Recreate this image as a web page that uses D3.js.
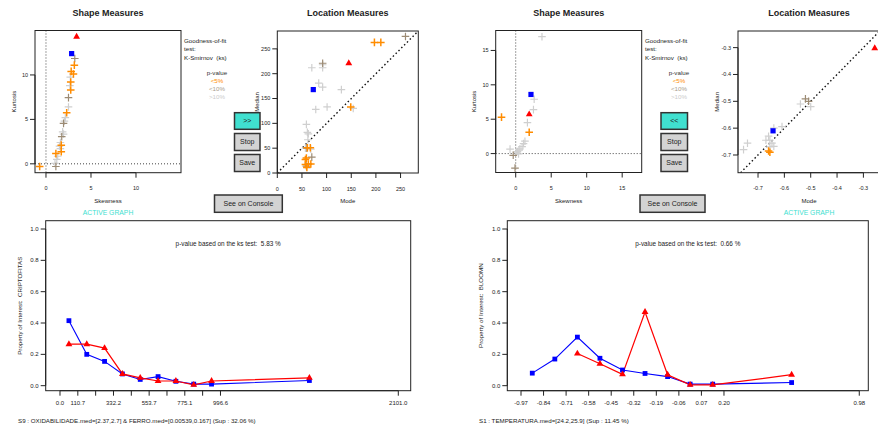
<!doctype html>
<html>
<head>
<script src="https://d3js.org/d3.v7.min.js"></script>
<style>
  body { margin: 0; background: #fff; }
  svg text { font-family: "Liberation Sans", Arial, sans-serif; fill: #222; }
</style>
</head>
<body>
<div id="graphic"></div>
<script>

// ---- data: top-left (S9) shape measures [skewness, kurtosis] ----
var s9ShapeSig5  = [[3.15,11.1],[2.8,10.4],[3.05,10.1],[2.75,9.2],[2.75,8.3],[2.3,5.75],[1.7,2.1],[1.7,1.35],[1.1,1.15],[-0.7,-0.3]];
var s9ShapeSig10 = [[3.2,11.85],[2.5,7.45],[1.95,4.55],[1.75,3.05],[1.1,-0.3]];
var s9ShapeRest  = [[2.7,9.75],[2.65,8.8],[2.5,6.4],[2.15,5.2],[2.05,4.8],[1.85,3.6],[1.95,3.35],[1.6,2.4],[1.5,2.0],[1.6,1.7],[1.3,0.85],[1.2,0.5],[1.0,0.05]];
var s9ShapeBlue  = [[2.85,12.4]];
var s9ShapeRed   = [[3.4,14.3]];

// ---- top-left location measures [mode, median] ----
var s9LocSig5  = [[197,263],[210,263],[149,133],[61,51],[67,51],[59,30],[57,27],[63,18],[57,17],[68,18],[60,11]];
var s9LocSig10 = [[260,275],[92,221],[60,50],[70,32],[59,14]];
var s9LocRest  = [[92,218],[70,212],[92,212],[84,181],[92,173],[130,168],[154,130],[101,133],[78,128],[59,98],[61,82],[63,79],[62,67],[57,50],[68,48]];
var s9LocBlue  = [[73,168]];
var s9LocRed   = [[145,221]];

// ---- top-right (S1) shape measures ----
var s1ShapeSig5  = [[-2.0,5.3],[1.9,3.1]];
var s1ShapeSig10 = [[-0.35,-0.25],[-0.1,-2.1]];
var s1ShapeRest  = [[3.7,17.0],[2.6,7.9],[2.5,6.4],[1.65,4.5],[1.3,1.8],[1.1,1.45],[0.9,1.0],[0.6,0.7],[0.45,0.5],[-0.8,0.65],[0.25,0.3],[0.4,-0.05],[0.1,0.2]];
var s1ShapeBlue  = [[2.15,8.6]];
var s1ShapeRed   = [[1.9,5.7]];

// ---- top-right location measures ----
var s1LocSig5  = [[-0.66,-0.685],[-0.655,-0.69]];
var s1LocSig10 = [[-0.52,-0.491],[-0.508,-0.5]];
var s1LocRest  = [[-0.539,-0.51],[-0.5,-0.52],[-0.609,-0.594],[-0.66,-0.63],[-0.67,-0.645],[-0.655,-0.645],[-0.647,-0.656],[-0.655,-0.67],[-0.64,-0.668],[-0.74,-0.656],[-0.755,-0.68],[-0.64,-0.6]];
var s1LocBlue  = [[-0.643,-0.61]];
var s1LocRed   = [[-0.257,-0.302]];

// ---- bottom-left: CRIPTOFITAS by interval ----
var s9Mid   = [55.4,166.1,276.8,387.6,498.3,609.0,719.8,830.5,941.2,1548.8];
var s9Blue  = [0.415,0.20,0.155,0.075,0.04,0.058,0.028,0.01,0.01,0.033];
var s9Red   = [0.265,0.265,0.24,0.075,0.05,0.03,0.03,0.005,0.03,0.05];
var s9Ticks = [0,110.7,221.4,332.2,442.9,553.7,664.4,775.1,885.8,996.6,2101.0];
var s9TickLabels = ["0.0","110.7","","332.2","","553.7","","775.1","","996.6","2101.0"];

// ---- bottom-right: BLOOMN by interval ----
var s1Mid   = [-0.905,-0.775,-0.645,-0.515,-0.385,-0.255,-0.125,0.005,0.135,0.59];
var s1Blue  = [0.08,0.17,0.31,0.175,0.10,0.078,0.058,0.01,0.01,0.02];
var s1Red   = [null,null,0.205,0.14,0.072,0.47,0.07,0.005,0.005,0.07];
var s1Ticks = [-0.97,-0.84,-0.71,-0.58,-0.45,-0.32,-0.19,-0.06,0.07,0.20,0.98];
var s1TickLabels = ["-0.97","-0.84","-0.71","-0.58","-0.45","-0.32","-0.19","-0.06","0.07","0.20","0.98"];

var propTicks = [0,0.2,0.4,0.6,0.8,1.0];

var ORANGE = "#FF8C00", TAN = "#9C8B74", LIGHT = "#CFCFCF", TURQ = "#40E0D0";

var svg = d3.select("#graphic").append("svg")
  .attr("width", 878).attr("height", 428);

var cross = "M-3.8,0H3.8M0,-3.8V3.8";

// R-like axis helpers
function xAxisR(g, scale, ticks, labels, y, fs, labY) {
  g.append("line").attr("x1", scale(ticks[0])).attr("x2", scale(ticks[ticks.length-1]))
    .attr("y1", y).attr("y2", y).attr("stroke", "#222");
  ticks.forEach(function(t, i) {
    g.append("line").attr("x1", scale(t)).attr("x2", scale(t)).attr("y1", y).attr("y2", y + 5)
      .attr("stroke", "#222");
    g.append("text").attr("x", scale(t)).attr("y", labY).attr("text-anchor", "middle")
      .style("font-size", fs + "px").text(labels[i]);
  });
}
function yAxisR(g, scale, ticks, labels, x, fs) {
  g.append("line").attr("y1", scale(ticks[0])).attr("y2", scale(ticks[ticks.length-1]))
    .attr("x1", x).attr("x2", x).attr("stroke", "#222");
  ticks.forEach(function(t, i) {
    g.append("line").attr("y1", scale(t)).attr("y2", scale(t)).attr("x1", x).attr("x2", x - 5)
      .attr("stroke", "#222");
    g.append("text").attr("x", x - 7).attr("y", scale(t)).attr("dy", "0.35em")
      .attr("text-anchor", "end").style("font-size", fs + "px").text(labels[i]);
  });
}

function scatterPanel(c) {
  var x = d3.scaleLinear().domain(c.xd).range([c.box[0], c.box[2]]);
  var y = d3.scaleLinear().domain(c.yd).range([c.box[3], c.box[1]]);
  var g = svg.append("g");
  var cid = "clip" + Math.round(c.box[0]);
  svg.append("clipPath").attr("id", cid).append("rect")
    .attr("x", c.box[0]).attr("y", c.box[1])
    .attr("width", c.box[2] - c.box[0]).attr("height", c.box[3] - c.box[1]);
  var inner = g.append("g").attr("clip-path", "url(#" + cid + ")");

  if (c.kind === "shape") {
    inner.append("line").attr("x1", x(0)).attr("x2", x(0)).attr("y1", c.box[1]).attr("y2", c.box[3])
      .attr("stroke", "#444").attr("stroke-dasharray", "1,2");
    inner.append("line").attr("y1", y(0)).attr("y2", y(0)).attr("x1", c.box[0]).attr("x2", c.box[2])
      .attr("stroke", "#444").attr("stroke-dasharray", "1,2");
  } else {
    var lo = Math.max(c.xd[0], c.yd[0]), hi = Math.min(c.xd[1], c.yd[1]);
    inner.append("line").attr("x1", x(lo)).attr("y1", y(lo)).attr("x2", x(hi)).attr("y2", y(hi))
      .attr("stroke", "#111").attr("stroke-width", 1.4).attr("stroke-dasharray", "1.5,2.5");
  }

  [[c.rest, LIGHT, 1.2], [c.sig10, TAN, 1.2], [c.sig5, ORANGE, 1.5]].forEach(function(s) {
    inner.selectAll(null).data(s[0]).enter().append("path")
      .attr("d", cross)
      .attr("transform", function(d) { return "translate(" + x(d[0]) + "," + y(d[1]) + ")"; })
      .attr("stroke", s[1]).attr("stroke-width", s[2]).attr("fill", "none");
  });
  inner.selectAll(null).data(c.blue).enter().append("rect")
    .attr("x", function(d) { return x(d[0]) - 2.6; }).attr("y", function(d) { return y(d[1]) - 2.6; })
    .attr("width", 5.2).attr("height", 5.2).attr("fill", "#0000FF");
  inner.selectAll(null).data(c.red).enter().append("path")
    .attr("d", d3.symbol(d3.symbolTriangle, 20))
    .attr("transform", function(d) { return "translate(" + x(d[0]) + "," + y(d[1]) + ")"; })
    .attr("fill", "#FF0000");

  g.append("rect").attr("x", c.box[0]).attr("y", c.box[1])
    .attr("width", c.box[2] - c.box[0]).attr("height", c.box[3] - c.box[1])
    .attr("fill", "none").attr("stroke", "#222").attr("stroke-width", 1);

  xAxisR(g, x, c.xt, c.xt.map(c.fmt), c.box[3], 5.5, c.box[3] + 17.5);
  yAxisR(g, y, c.yt, c.yt.map(c.fmt), c.box[0], 5.5);

  var cx = (c.box[0] + c.box[2]) / 2, cy = (c.box[1] + c.box[3]) / 2;
  g.append("text").attr("x", cx).attr("y", 15.5).attr("text-anchor", "middle")
    .style("font-size", "9px").style("font-weight", "bold").text(c.title);
  g.append("text").attr("x", cx).attr("y", 203).attr("text-anchor", "middle")
    .style("font-size", "6px").text(c.xLabel);
  g.append("text").attr("transform", "translate(" + c.yLabX + "," + cy + ")rotate(-90)")
    .attr("text-anchor", "middle").attr("dy", "0.35em").style("font-size", "6px").text(c.yLabel);
  if (c.active) {
    g.append("text").attr("x", cx).attr("y", 214.5).attr("text-anchor", "middle")
      .style("font-size", "6.8px").style("fill", TURQ).text("ACTIVE GRAPH");
  }
}

// plain ASCII hyphen for negatives, like the original
var fmtInt = function(d) { return String(d); };
var fmt1 = function(d) { return d.toFixed(1); };

scatterPanel({kind: "shape", box: [35, 30.5, 181, 172.7], xd: [-1.22, 15], yd: [-1.0, 15.0],
  xt: [0,5,10], yt: [0,5,10], fmt: fmtInt, title: "Shape Measures", xLabel: "Skewness",
  yLabel: "Kurtosis", yLabX: 14, active: true,
  sig5: s9ShapeSig5, sig10: s9ShapeSig10, rest: s9ShapeRest, blue: s9ShapeBlue, red: s9ShapeRed});

scatterPanel({kind: "loc", box: [277.3, 31, 418.3, 173], xd: [0, 286], yd: [0, 286],
  xt: [0,50,100,150,200,250], yt: [0,50,100,150,200,250], fmt: fmtInt, title: "Location Measures",
  xLabel: "Mode", yLabel: "Median", yLabX: 257.3, active: false,
  sig5: s9LocSig5, sig10: s9LocSig10, rest: s9LocRest, blue: s9LocBlue, red: s9LocRed});

scatterPanel({kind: "shape", box: [495.7, 30.5, 641.7, 172.5], xd: [-2.82, 17.75], yd: [-2.75, 17.9],
  xt: [0,5,10,15], yt: [0,5,10,15], fmt: fmtInt, title: "Shape Measures", xLabel: "Skewness",
  yLabel: "Kurtosis", yLabX: 474.3, active: false,
  sig5: s1ShapeSig5, sig10: s1ShapeSig10, rest: s1ShapeRest, blue: s1ShapeBlue, red: s1ShapeRed});

scatterPanel({kind: "loc", box: [738, 31, 880, 172.7], xd: [-0.776, -0.237], yd: [-0.766, -0.238],
  xt: [-0.7,-0.6,-0.5,-0.4,-0.3], yt: [-0.7,-0.6,-0.5,-0.4,-0.3], fmt: fmt1, title: "Location Measures",
  xLabel: "Mode", yLabel: "Median", yLabX: 717.3, active: true,
  sig5: s1LocSig5, sig10: s1LocSig10, rest: s1LocRest, blue: s1LocBlue, red: s1LocRed});

// legends
function legend(x0, xc) {
  var g = svg.append("g").style("font-size", "6.2px");
  ["Goodness-of-fit", "test:", "K-Smirnov  (ks)"].forEach(function(t, i) {
    g.append("text").attr("x", x0).attr("y", 43 + i * 8.3).style("white-space", "pre").text(t);
  });
  [["p-value", "#333"], ["<5%", ORANGE], ["<10%", "#A89C8C"], [">10%", "#CCCCCC"]].forEach(function(t, i) {
    g.append("text").attr("x", xc).attr("y", 74.5 + i * 8.3).attr("text-anchor", "middle")
      .style("fill", t[1]).text(t[0]);
  });
}
legend(184, 217);
legend(645, 679);

// buttons
function button(x, y, w, h, label, fill) {
  svg.append("rect").attr("x", x).attr("y", y).attr("width", w).attr("height", h)
    .attr("fill", fill).attr("stroke", "#333").attr("stroke-width", 1.5);
  svg.append("text").attr("x", x + w / 2).attr("y", y + h / 2).attr("dy", "0.35em")
    .attr("text-anchor", "middle").style("font-size", "7px").text(label);
}
button(234.5, 112.7, 25.5, 16.6, ">>", TURQ);
button(234.5, 133.5, 25.5, 17, "Stop", "#D3D3D3");
button(234.5, 154.5, 25.5, 17, "Save", "#D3D3D3");
button(214.5, 195, 67.8, 17.3, "See on Console", "#D3D3D3");
button(661, 112.7, 26.5, 16.6, "<<", TURQ);
button(661, 133.5, 26.5, 17, "Stop", "#D3D3D3");
button(661, 154.5, 26.5, 17, "Save", "#D3D3D3");
button(640, 195, 65, 17.3, "See on Console", "#D3D3D3");

// bottom profile charts
function profile(c) {
  var x = d3.scaleLinear().domain(c.xd).range([c.box[0], c.box[2]]);
  var y = d3.scaleLinear().domain([-0.032, 1.053]).range([c.box[3], c.box[1]]);
  var g = svg.append("g");
  g.append("rect").attr("x", c.box[0]).attr("y", c.box[1])
    .attr("width", c.box[2] - c.box[0]).attr("height", c.box[3] - c.box[1])
    .attr("fill", "none").attr("stroke", "#222");

  var line = d3.line().defined(function(d) { return d[1] !== null; })
    .x(function(d) { return x(d[0]); }).y(function(d) { return y(d[1]); });
  var blue = c.mid.map(function(m, i) { return [m, c.blue[i]]; });
  var red = c.mid.map(function(m, i) { return [m, c.red[i]]; });

  g.append("path").attr("d", line(blue)).attr("fill", "none").attr("stroke", "#0000FF").attr("stroke-width", 1.1);
  g.append("path").attr("d", line(red)).attr("fill", "none").attr("stroke", "#FF0000").attr("stroke-width", 1.2);
  g.selectAll(null).data(blue).enter().append("rect")
    .attr("x", function(d) { return x(d[0]) - 2.4; }).attr("y", function(d) { return y(d[1]) - 2.4; })
    .attr("width", 4.8).attr("height", 4.8).attr("fill", "#0000FF");
  g.selectAll(null).data(red.filter(function(d) { return d[1] !== null; })).enter().append("path")
    .attr("d", d3.symbol(d3.symbolTriangle, 20))
    .attr("transform", function(d) { return "translate(" + x(d[0]) + "," + y(d[1]) + ")"; })
    .attr("fill", "#FF0000");

  xAxisR(g, x, c.ticks, c.tickLabels, c.box[3], 6, c.box[3] + 13.8);
  yAxisR(g, y, propTicks, propTicks.map(fmt1), c.box[0], 6);

  var cx = (c.box[0] + c.box[2]) / 2, cy = (c.box[1] + c.box[3]) / 2;
  g.append("text").attr("x", cx).attr("y", 246).attr("text-anchor", "middle")
    .style("font-size", "6.4px").style("white-space", "pre").text(c.pText);
  g.append("text").attr("transform", "translate(" + c.yLabX + "," + cy + ")rotate(-90)")
    .attr("text-anchor", "middle").attr("dy", "0.35em").style("font-size", "6.2px")
    .style("white-space", "pre").text(c.yLabel);
  g.append("text").attr("x", c.footX).attr("y", 423).style("font-size", "6.2px")
    .style("white-space", "pre").text(c.foot);
}

profile({box: [45.7, 220.7, 410.7, 390.7], xd: [-88.8, 2178], mid: s9Mid, blue: s9Blue, red: s9Red,
  ticks: s9Ticks, tickLabels: s9TickLabels, yLabX: 20,
  pText: "p-value based on the ks test:  5.83 %", yLabel: "Property of Interest:  CRIPTOFITAS",
  footX: 18, foot: "S9 : OXIDABILIDADE.med=[2.37,2.7] & FERRO.med=[0.00539,0.167] (Sup : 32.06 %)"});

profile({box: [507.3, 220.7, 868.3, 390.7], xd: [-1.049, 1.032], mid: s1Mid, blue: s1Blue, red: s1Red,
  ticks: s1Ticks, tickLabels: s1TickLabels, yLabX: 480.7,
  pText: "p-value based on the ks test:  0.66 %", yLabel: "Property of Interest:  BLOOMN",
  footX: 479, foot: "S1 : TEMPERATURA.med=[24.2,25.9] (Sup : 11.45 %)"});

</script>
</body>
</html>
